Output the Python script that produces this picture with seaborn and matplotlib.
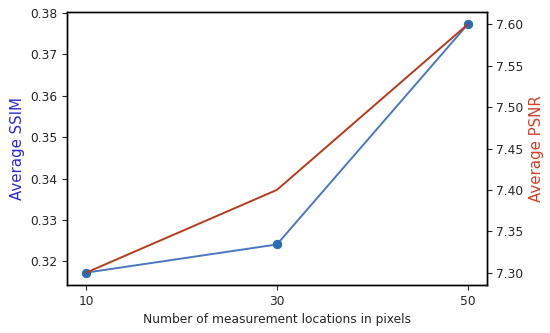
import numpy as np
import pandas as pd
import matplotlib
matplotlib.use("Agg")
import matplotlib.pyplot as plt
import seaborn as sns

locations = [10, 30, 50]
avg_ssim = [0.3173, 0.3241, 0.3772]
avg_psnr = [7.30, 7.40, 7.60]

sns.set_style("ticks")
plt.rcParams['font.family'] = ['DejaVu Sans']

df = pd.DataFrame({"loc": locations, "ssim": avg_ssim, "psnr": avg_psnr})

fig, ax1 = plt.subplots(figsize=(5.5, 3.33), dpi=100)
fig.subplots_adjust(left=0.122, right=0.885, bottom=0.144, top=0.964)

sns.lineplot(data=df, x="loc", y="ssim", ax=ax1, color="#4a78c0", linewidth=1.4,
             marker="o", markersize=6, markerfacecolor="#2a6db3", markeredgecolor="#2a6db3")
ax1.set_xticks(locations)
ax1.set_xlabel("Number of measurement locations in pixels", fontsize=8.8)
ax1.set_ylabel("Average SSIM", color="#2a2ad8", fontsize=10.8)
ax1.tick_params(labelsize=8.8)

ax2 = ax1.twinx()
sns.lineplot(data=df, x="loc", y="psnr", ax=ax2, color="#b33c1c", linewidth=1.4)
ax2.set_ylabel("Average PSNR", color="#d2402a", fontsize=10.8)
ax2.tick_params(labelsize=8.8)
ax2.set_yticks([7.30, 7.35, 7.40, 7.45, 7.50, 7.55, 7.60])
ax2.set_yticklabels(["7.30", "7.35", "7.40", "7.45", "7.50", "7.55", "7.60"])

for a in (ax1, ax2):
    for s in a.spines.values():
        s.set_color("black")
        s.set_linewidth(1.0)

fig.savefig("out.png", dpi=100)
